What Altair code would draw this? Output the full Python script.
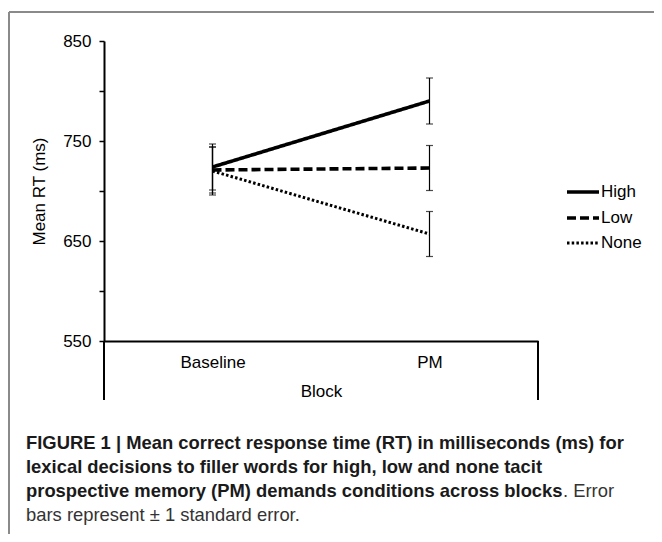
import altair as alt
import pandas as pd

blocks = ["Baseline", "PM"]
series = ["High", "Low", "None"]
high_mean = [724, 790]
low_mean = [721, 723]
none_mean = [720, 657]
high_se = [23, 23]
low_se = [23, 22.5]
none_se = [24, 22.5]

y_ticks = [550, 600, 650, 700, 750, 800, 850]

caption_bold = [
    "FIGURE 1 | Mean correct response time (RT) in milliseconds (ms) for",
    "lexical decisions to filler words for high, low and none tacit",
    "prospective memory (PM) demands conditions across blocks",
]
caption_normal = [". Error", "bars represent \u00b1 1 standard error."]

rows = []
for name, means, ses in [("High", high_mean, high_se), ("Low", low_mean, low_se), ("None", none_mean, none_se)]:
    for b, m, s in zip(blocks, means, ses):
        rows.append({"block": b, "series": name, "mean": m, "lo": m - s, "hi": m + s})
df = pd.DataFrame(rows)

FONT = "Liberation Sans"
FS = 17
W, H = 434, 300

xscale = alt.Scale(type="point", domain=blocks, padding=0.5)
yscale = alt.Scale(domain=[550, 850], nice=False, zero=False)

x_enc = alt.X(
    "block:N", scale=xscale,
    axis=alt.Axis(title="Block", ticks=False, tickSize=0, labelPadding=21, labelBaseline="middle",
                  labelFontSize=FS, labelFont=FONT, labelColor="black", labelAngle=0,
                  titleFontSize=FS, titleFont=FONT, titleFontWeight="normal", titleColor="black",
                  titlePadding=13, domainColor="black", domainWidth=2, grid=False),
)
y_enc = alt.Y(
    "mean:Q", scale=yscale,
    axis=alt.Axis(title="Mean RT (ms)", values=y_ticks,
                  labelExpr="datum.value % 100 == 50 ? datum.label : ''",
                  tickSize=5, tickColor="black", tickWidth=1.5, labelPadding=8,
                  labelFontSize=FS, labelFont=FONT, labelColor="black",
                  titleFontSize=FS, titleFont=FONT, titleFontWeight="normal", titleColor="black",
                  titlePadding=14, domainColor="black", domainWidth=2, grid=False),
)

dash_map = {"High": [1, 0], "Low": [9, 4], "None": [2.5, 2.2]}
width_map = {"High": 3.6, "Low": 3.6, "None": 3.0}

layers = []
for s in series:
    sub = df[df.series == s]
    layers.append(
        alt.Chart(sub).mark_line(color="black", strokeWidth=width_map[s], strokeDash=dash_map[s])
        .encode(x=x_enc, y=y_enc)
    )

err = alt.Chart(df).mark_rule(color="black", strokeWidth=1.2).encode(
    x=alt.X("block:N", scale=xscale), y=alt.Y("lo:Q", scale=yscale), y2="hi:Q")
cap_lo = alt.Chart(df).mark_tick(color="black", thickness=1.2, size=7, orient="horizontal").encode(
    x=alt.X("block:N", scale=xscale), y=alt.Y("lo:Q", scale=yscale))
cap_hi = alt.Chart(df).mark_tick(color="black", thickness=1.2, size=7, orient="horizontal").encode(
    x=alt.X("block:N", scale=xscale), y=alt.Y("hi:Q", scale=yscale))

one = pd.DataFrame({"k": [0]})

def rule(x, x2, y, y2, color="black", w=2):
    return alt.Chart(one).mark_rule(color=color, strokeWidth=w).encode(
        x=alt.value(x), x2=alt.value(x2), y=alt.value(y), y2=alt.value(y2))

def text(t, x, y, size=FS, weight="normal", color="black", align="left"):
    return alt.Chart(one).mark_text(text=t, font=FONT, fontSize=size, fontWeight=weight,
                                    color=color, align=align, baseline="middle").encode(
        x=alt.value(x), y=alt.value(y))

deco = [
    # box extension below the category axis
    rule(0, 0, H, 359),
    rule(W, W, H, 359),
    # figure frame
    rule(-95, -95, -29, 493, color="#8a8a8a", w=2),
    rule(-95, 560, -29, -29, color="#8a8a8a", w=2),
]

# legend
leg_y = [151, 177, 202]
for s, yy in zip(series, leg_y):
    deco.append(alt.Chart(one).mark_rule(color="black", strokeWidth=width_map[s], strokeDash=dash_map[s])
                .encode(x=alt.value(463), x2=alt.value(495), y=alt.value(yy), y2=alt.value(yy)))
    deco.append(text(s, 497, yy))

cap_x = -78
cap_y = [402, 426, 450, 474]
for line, yy in zip(caption_bold, cap_y):
    deco.append(text(line, cap_x, yy, size=18.4, weight="bold", color="#1a1a1a"))
deco.append(text(caption_normal[0], 459, cap_y[2], size=18.4, color="#333333"))
deco.append(text(caption_normal[1], cap_x, cap_y[3], size=18.4, color="#333333"))

chart = alt.layer(*layers, err, cap_lo, cap_hi, *deco).properties(
    width=W, height=H,
    autosize=alt.AutoSizeParams(type="none"),
    padding={"left": 96, "top": 33, "right": 116, "bottom": 193},
).configure(background="white").configure_view(stroke=None, strokeWidth=0)

chart.save("out.html", embed_options={"renderer": "svg", "actions": False})
